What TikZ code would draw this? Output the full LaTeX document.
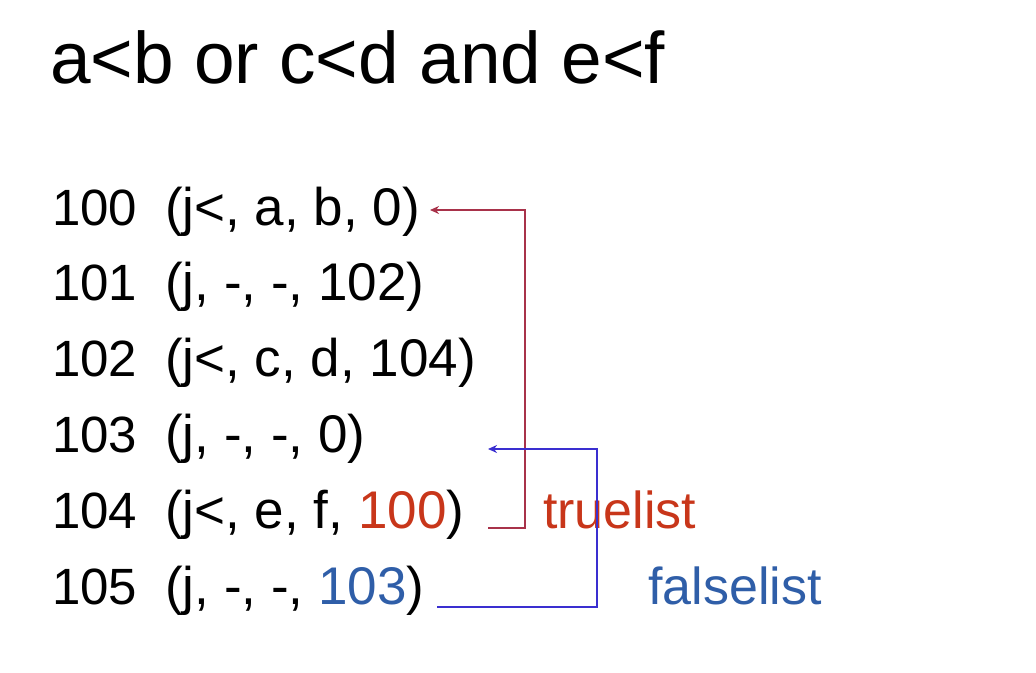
\documentclass[tikz,border=0pt]{standalone}
\usepackage{fontspec}
\setmainfont{Liberation Sans}
\usetikzlibrary{arrows.meta}
\definecolor{tred}{HTML}{C8361A}
\definecolor{tblue}{HTML}{2F5EA8}
\definecolor{lred}{HTML}{A8324A}
\definecolor{lblue}{HTML}{3A2FD0}
\begin{document}
\begin{tikzpicture}[x=1pt,y=-1pt,
  title/.style={anchor=base west,inner sep=0pt,font=\fontsize{73}{80}\selectfont},
  num/.style={anchor=base west,inner sep=0pt,font=\fontsize{51}{60}\selectfont},
  tup/.style={anchor=base west,inner sep=0pt,font=\fontsize{53}{60}\selectfont},
  lbl/.style={anchor=base west,inner sep=0pt,font=\fontsize{52}{60}\selectfont},
  redline/.style={draw=lred,line width=2.6pt,-{Stealth[length=9pt,width=8pt]}},
  blueline/.style={draw=lblue,line width=2.6pt,-{Stealth[length=9pt,width=8pt]}}]
\useasboundingbox (0,0) rectangle (1036,672);
\node[title] (t) at (50,83) {a<b or c<d and e<f};
\foreach \n/\y in {100/225,101/300,102/376,103/452,104/528,105/604}{
  \node[num] (n\n) at (52,\y) {\n};
}
\node[tup] (r100) at (165,225) {(j<, a, b, 0)};
\node[tup] (r101) at (165,300) {(j, -, -, 102)};
\node[tup] (r102) at (165,376) {(j<, c, d, 104)};
\node[tup] (r103) at (165,452) {(j, -, -, 0)};
\node[tup] (r104) at (165,528) {(j<, e, f, \textcolor{tred}{100})};
\node[tup] (r105) at (165,604) {(j, -, -, \textcolor{tblue}{103})};
\node[lbl,text=tred] (tl) at (543,528) {truelist};
\node[lbl,text=tblue] (fl) at (648,604) {falselist};
\coordinate (rs) at (488,528);
\coordinate (rc1) at (525,528);
\coordinate (rc2) at (525,210);
\coordinate (re) at (430,210);
\draw[redline] (rs) -- (rc1) -- (rc2) -- (re);
\coordinate (bs) at (437,607);
\coordinate (bc1) at (597,607);
\coordinate (bc2) at (597,449);
\coordinate (be) at (488,449);
\draw[blueline] (bs) -- (bc1) -- (bc2) -- (be);
\end{tikzpicture}
\end{document}
